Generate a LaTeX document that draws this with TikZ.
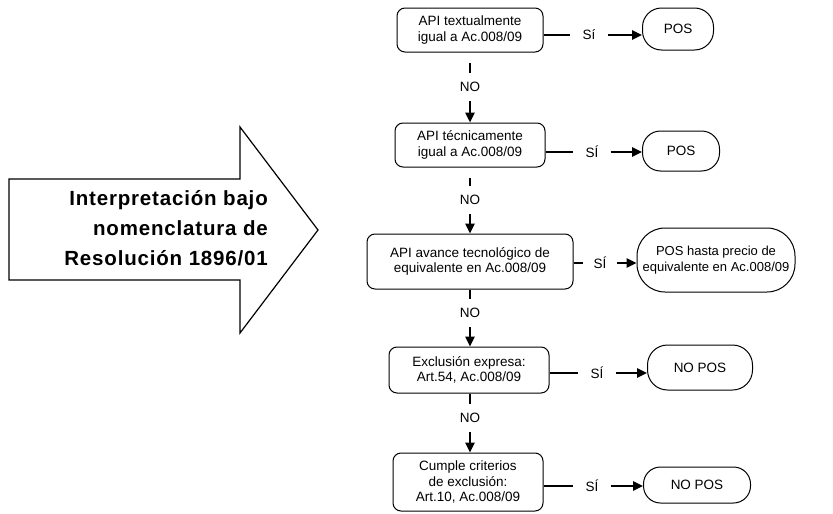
\documentclass[tikz,border=0pt]{standalone}
\usepackage{fontspec}
\setmainfont{Liberation Sans}
\newfontfamily\heavyfont{Liberation Sans}[LetterSpace=4]
\usetikzlibrary{arrows.meta}

\tikzset{
  txt/.style={font=\fontsize{13.5}{15.5}\selectfont},
  decision/.style={txt, draw, line width=1pt, rounded corners=8pt,
    align=center, inner sep=0pt},
  terminal/.style={txt, draw, line width=1pt, align=center, inner sep=0pt},
  yeslbl/.style={txt, inner xsep=12pt, inner ysep=2pt},
  nolbl/.style={txt, inner xsep=2pt, inner ysep=9pt},
  conn/.style={line width=2.4pt},
  flow/.style={conn, -{Triangle[length=10pt,width=9pt]}}
}

\begin{document}
\begin{tikzpicture}[x=1pt,y=-1pt]
\useasboundingbox (0,0) rectangle (833,514);

% large block arrow on the left
\draw[line width=1.2pt, line join=miter]
  (9,179) -- (240,179) -- (240,127) -- (318,230) -- (240,333)
  -- (240,280) -- (9,280) -- cycle;
\node[anchor=east, align=right, inner sep=0pt,
      font=\heavyfont\bfseries\fontsize{20.5}{30}\selectfont] (title) at (268,228)
  {Interpretación bajo\\nomenclatura de\\Resolución 1896/01};

% decision boxes
\node[decision, minimum width=146pt, minimum height=44pt] (b1) at (470,30)
  {API textualmente\\igual a Ac.008/09};
\node[decision, minimum width=150pt, minimum height=44pt] (b2) at (470,145)
  {API técnicamente\\igual a Ac.008/09};
\node[decision, minimum width=206pt, minimum height=55pt] (b3) at (470,261.5)
  {API avance tecnológico de\\equivalente en Ac.008/09};
\node[decision, minimum width=160pt, minimum height=46pt] (b4) at (469,370)
  {Exclusión expresa:\\Art.54, Ac.008/09};
\node[decision, minimum width=150pt, minimum height=58pt] (b5) at (468,482)
  {Cumple criterios\\de exclusión:\\Art.10, Ac.008/09};

% outcomes
\node[terminal, rounded corners=19pt, minimum width=71pt, minimum height=42pt] (t1) at (678,29) {POS};
\node[terminal, rounded corners=18pt, minimum width=77pt, minimum height=40pt] (t2) at (681,151) {POS};
\node[terminal, rounded corners=28pt, minimum width=158pt, minimum height=64pt,
      font=\fontsize{13}{15.5}\selectfont] (t3) at (716,260)
  {POS hasta precio de\\equivalente en Ac.008/09};
\node[terminal, rounded corners=20pt, minimum width=105pt, minimum height=45pt] (t4) at (700,367.5) {NO POS};
\node[terminal, rounded corners=17pt, minimum width=107pt, minimum height=36pt] (t5) at (697,485) {NO POS};

% yes branches
\node[yeslbl] (s1) at (589,35) {Sí};
\node[yeslbl] (s2) at (592,152) {SÍ};
\node[yeslbl, inner xsep=10pt] (s3) at (600,263) {SÍ};
\node[yeslbl] (s4) at (597,373) {SÍ};
\node[yeslbl] (s5) at (592,486) {SÍ};

\foreach \i in {1,...,5} {
  \draw[conn] (b\i.east |- s\i) -- (s\i.west);
  \draw[flow] (s\i.east) -- (t\i.west |- s\i);
}

% no branches
\node[nolbl] (n1) at (470,87) {NO};
\node[nolbl] (n2) at (470,200) {NO};
\node[nolbl] (n3) at (470,313) {NO};
\node[nolbl] (n4) at (470,418) {NO};

\draw[conn, shorten <=10pt] (b1.south) -- (n1.north);
\draw[conn, shorten <=10pt] (b2.south) -- (n2.north);
\draw[conn] (b3.south) -- (n3.north);
\draw[conn] (b4.south -| n4) -- (n4.north);

\draw[flow] (n1.south) -- (b2.north);
\draw[flow] (n2.south) -- (b3.north);
\draw[flow] (n3.south) -- (b4.north -| n3);
\draw[flow] (n4.south) -- (b5.north -| n4);
\end{tikzpicture}
\end{document}
